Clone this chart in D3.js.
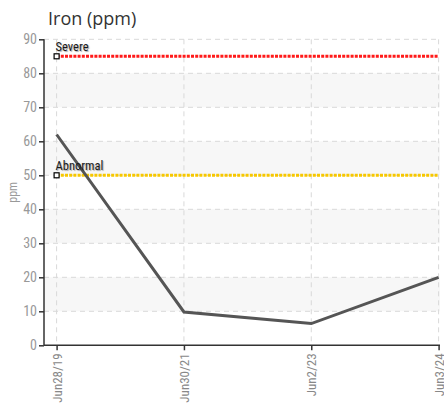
<!DOCTYPE html>
<html><head><meta charset="utf-8">
<script src="https://cdn.jsdelivr.net/npm/d3@7"></script>
<style>body{margin:0;background:#fff}svg{display:block}</style>
</head><body>
<svg id="c" width="444" height="407"></svg>
<script>
const categories = ["Jun28/19","Jun30/21","Jun2/23","Jun3/24"];
const values = [62, 9.8, 6.4, 20];
const yTicks = [0,10,20,30,40,50,60,70,80,90];
const bands = [[10,20],[30,40],[50,60],[70,80]];
const thresholds = [{name:"Severe", value:85, color:"#ff1a1a"},{name:"Abnormal", value:50, color:"#f7c800"}];
const title = "Iron (ppm)";
const yLabel = "ppm";

(function(){
const svg = d3.select("#c");
const pL = 44, pR = 440, pT = 39.3, pB = 345.3;
const x = d3.scalePoint().domain(categories).range([56.6, 438.6]);
const y = d3.scaleLinear().domain([0,90]).range([pB, pT]);
const tickFont = "'Liberation Sans Narrow','Roboto Condensed','Arial Narrow',sans-serif";

svg.append("g").selectAll("rect").data(bands).join("rect")
  .attr("x", pL).attr("width", pR-pL)
  .attr("y", d=>y(d[1])).attr("height", d=>y(d[0])-y(d[1]))
  .attr("fill","#f7f7f7");

svg.append("g").selectAll("line").data(yTicks.filter(d=>d>0)).join("line")
  .attr("x1", pL).attr("x2", pR).attr("y1", d=>y(d)).attr("y2", d=>y(d))
  .attr("stroke","#d9d9d9").attr("stroke-dasharray","5,4");
svg.append("g").selectAll("line").data(categories).join("line")
  .attr("x1", d=>x(d)).attr("x2", d=>x(d)).attr("y1", pT).attr("y2", pB)
  .attr("stroke","#d9d9d9").attr("stroke-dasharray","5,4");

thresholds.forEach(t=>{
  svg.append("line").attr("x1", x(categories[0])).attr("x2", x(categories[categories.length-1]))
    .attr("y1", y(t.value)).attr("y2", y(t.value))
    .attr("stroke", t.color).attr("stroke-width",3).attr("stroke-dasharray","3,1.2");
});

svg.append("path").datum(values.map((v,i)=>[categories[i],v]))
  .attr("fill","none").attr("stroke","#555").attr("stroke-width",3)
  .attr("d", d3.line().x(d=>x(d[0])).y(d=>y(d[1])));

thresholds.forEach(t=>{
  svg.append("rect").attr("x", x(categories[0])-2.5).attr("y", y(t.value)-2.5)
    .attr("width",5).attr("height",5).attr("fill","#fff").attr("stroke","#000").attr("stroke-width",1.2);
  svg.append("text").attr("x", x(categories[0])-1).attr("y", y(t.value)-5)
    .attr("font-family", tickFont).attr("font-size", 12.5).attr("fill","#1a1a1a")
    .attr("style","text-shadow:1px 1px 1px rgba(0,0,0,0.35)")
    .text(t.name);
});

const ya = svg.append("g").attr("transform",`translate(${pL},0)`)
  .call(d3.axisLeft(y).tickValues(yTicks).tickSize(5).tickPadding(2));
ya.select(".domain").attr("stroke","#333").attr("stroke-width",1.5).attr("d",`M0,${pT}V${pB}`);
ya.selectAll(".tick line").attr("stroke","#333").attr("stroke-width",1.5);
ya.selectAll(".tick text").attr("font-family", tickFont).attr("font-size",14).attr("fill","#999");

const xa = svg.append("g").attr("transform",`translate(0,${pB})`)
  .call(d3.axisBottom(x).tickSize(5).tickSizeOuter(0));
xa.select(".domain").attr("stroke","#333").attr("stroke-width",1.5).attr("d",`M${pL},0H${pR}`);
xa.selectAll(".tick line").attr("stroke","#333").attr("stroke-width",1.5);
xa.selectAll(".tick text").attr("font-family", tickFont).attr("font-size",13).attr("fill","#888")
  .attr("transform","rotate(-90)").attr("text-anchor","end").attr("x",-8).attr("y",0).attr("dy","0.35em");

svg.append("text").attr("x",48).attr("y",25).attr("font-family","'Open Sans','Noto Sans',sans-serif")
  .attr("font-size",18).attr("fill","#333").text(title);
svg.append("text").attr("transform",`translate(17,${(pT+pB)/2}) rotate(-90)`)
  .attr("text-anchor","middle").attr("font-family", tickFont).attr("font-size",12).attr("fill","#999").text(yLabel);
})();
</script>
</body></html>
